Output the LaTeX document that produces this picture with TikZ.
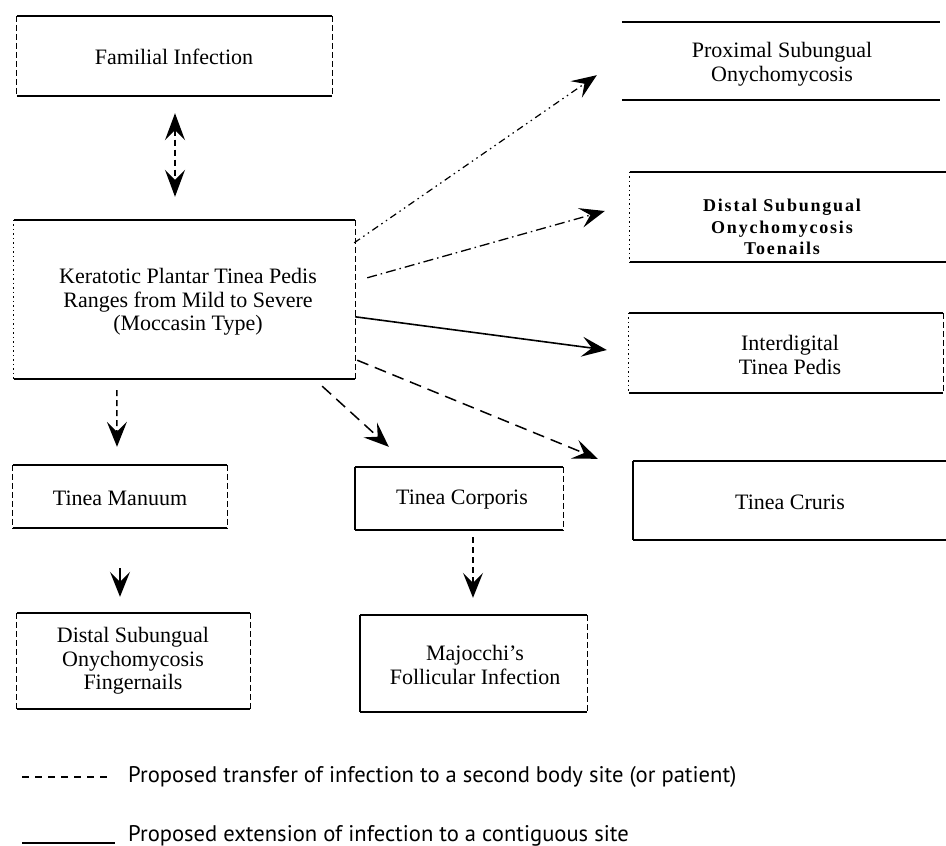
\documentclass[tikz,border=0pt]{standalone}
\usepackage{fontspec}
\setmainfont{Liberation Serif}
\newfontfamily\legendfont{PT Sans}
\newfontfamily\spacedfont[LetterSpace=10]{Liberation Serif}
\usetikzlibrary{arrows.meta,calc}
\newcommand\boxedges[3]{%
  \draw[edge] (#1.north west) -- (#1.north east) (#1.south west) -- (#1.south east);
  \draw[#2] (#1.north west) -- (#1.south west);
  \draw[#3] (#1.north east) -- (#1.south east);}
\tikzset{
  boxnode/.style={rectangle, inner sep=0pt},
  txt/.style={align=center, inner sep=0pt, font=\fontsize{22}{23.5}\selectfont},
  edge/.style={line width=1.9pt},
  sidedash/.style={line width=1.1pt, dash pattern=on 6pt off 3pt},
  sidedot/.style={line width=1pt, dash pattern=on 1.5pt off 3pt},
  sidesolid/.style={line width=1.5pt},
  noside/.style={draw=none},
  head/.style={-{Stealth[length=25pt,width=20pt,inset=10pt]}},
  heads/.style={{Stealth[length=27pt,width=20pt,inset=10pt]}-{Stealth[length=27pt,width=20pt,inset=10pt]}},
  shortdash/.style={line width=1.5pt, dash pattern=on 6pt off 4pt},
  longdash/.style={line width=1.5pt, dash pattern=on 12pt off 7pt},
  solidarrow/.style={line width=1.6pt},
  dashdot/.style={line width=1.3pt, dash pattern=on 10pt off 4pt on 1.5pt off 4pt},
  dashdotdot/.style={line width=1.2pt, dash pattern=on 7pt off 4pt on 1.5pt off 4pt on 1.5pt off 4pt},
  legtxt/.style={anchor=base west, inner sep=0pt, font=\legendfont\fontsize{22.6}{24}\selectfont},
}
\begin{document}
\begin{tikzpicture}[x=1pt,y=-1pt]
\useasboundingbox[fill=white] (0,0) rectangle (946,846);

% boxes
\node[boxnode, minimum width=315pt, minimum height=80pt]  (fam)  at (174.5,56) {};
\node[boxnode, minimum width=341pt, minimum height=159pt] (ker)  at (184.5,299.5) {};
\node[boxnode, minimum width=318pt, minimum height=78pt]  (prox) at (781,61) {};
\node[boxnode, minimum width=316pt, minimum height=90pt]  (dst)  at (788,217) {};
\node[boxnode, minimum width=314pt, minimum height=80pt]  (idg)  at (786,353) {};
\node[boxnode, minimum width=313pt, minimum height=79pt]  (cru)  at (789.5,500.5) {};
\node[boxnode, minimum width=214pt, minimum height=63pt]  (man)  at (120,496.5) {};
\node[boxnode, minimum width=208pt, minimum height=63pt]  (cor)  at (459,498.5) {};
\node[boxnode, minimum width=233pt, minimum height=96pt]  (fin)  at (133.5,661) {};
\node[boxnode, minimum width=227pt, minimum height=97pt]  (maj)  at (473.5,663.5) {};

\boxedges{fam}{sidedash}{sidedash}
\boxedges{ker}{sidedot}{sidedash}
\boxedges{prox}{noside}{noside}
\boxedges{dst}{sidedot}{noside}
\boxedges{idg}{sidedot}{sidedash}
\boxedges{cru}{sidesolid}{noside}
\boxedges{man}{sidedash}{sidedash}
\boxedges{cor}{sidesolid}{sidedash}
\boxedges{fin}{sidedash}{sidedash}
\boxedges{maj}{sidesolid}{sidedash}

% texts
\node[txt] (famT)  at (174,57)   {Familial Infection};
\node[txt] (kerT)  at (188,302)  {Keratotic Plantar Tinea Pedis\\Ranges from Mild to Severe\\(Moccasin Type)};
\node[txt] (proxT) at (782,64)   {Proximal Subungual\\Onychomycosis};
\node[txt, font=\spacedfont\bfseries\fontsize{18}{21.5}\selectfont] (dstT) at (782,227) {Distal Subungual\\Onychomycosis\\Toenails};
\node[txt] (idgT)  at (790,355)  {Interdigital\\Tinea Pedis};
\node[txt] (cruT)  at (790,502)  {Tinea Cruris};
\node[txt] (manT)  at (120,498)  {Tinea Manuum};
\node[txt] (corT)  at (462,500)  {Tinea Corporis};
\node[txt] (finT)  at (133,661)  {Distal Subungual\\Onychomycosis\\Fingernails};
\node[txt] (majT)  at (475,665)  {Majocchi's\\Follicular Infection};

% connectors
\draw[shortdash, heads] ($(fam.south)+(0.5,17)$) -- ($(ker.north)+(-9.5,-23)$);
\draw[shortdash, head] ($(ker.south west)+(103,11)$) -- ($(man.north)+(-3,-18)$);
\draw[solidarrow, head] ($(man.south)+(0,40)$) -- ($(fin.north)+(-13.5,-16)$);
\draw[shortdash, head] ($(cor.south)+(14,7)$) -- ($(maj.north)+(-0.5,-17)$);
\draw[longdash, head] ($(ker.south east)+(-33,7)$) -- ($(cor.north west)+(34,-20)$);
\draw[longdash, head] ($(ker.south east)+(2,-19)$) -- ($(cru.north west)+(-35,-2)$);
\draw[solidarrow, head] ($(ker.north east)+(0,97)$) -- ($(idg.west)+(-22,-3)$);
\draw[dashdot, head] ($(ker.north east)+(12,58)$) -- ($(dst.west)+(-25,-6)$);
\draw[dashdotdot, head] ($(ker.north east)+(-1,23)$) -- ($(prox.south west)+(-25,-25)$);

% legend
\coordinate (l1a) at (22,777);
\coordinate (l1b) at (113,777);
\coordinate (l2a) at (22,843);
\coordinate (l2b) at (115,843);
\draw[line width=1.2pt, dash pattern=on 7pt off 6pt] (l1a) -- (l1b);
\draw[line width=1.6pt] (l2a) -- (l2b);
\node[legtxt] (leg1) at (128,782) {Proposed transfer of infection to a second body site (or patient)};
\node[legtxt] (leg2) at (128,841) {Proposed extension of infection to a contiguous site};
\end{tikzpicture}
\end{document}
